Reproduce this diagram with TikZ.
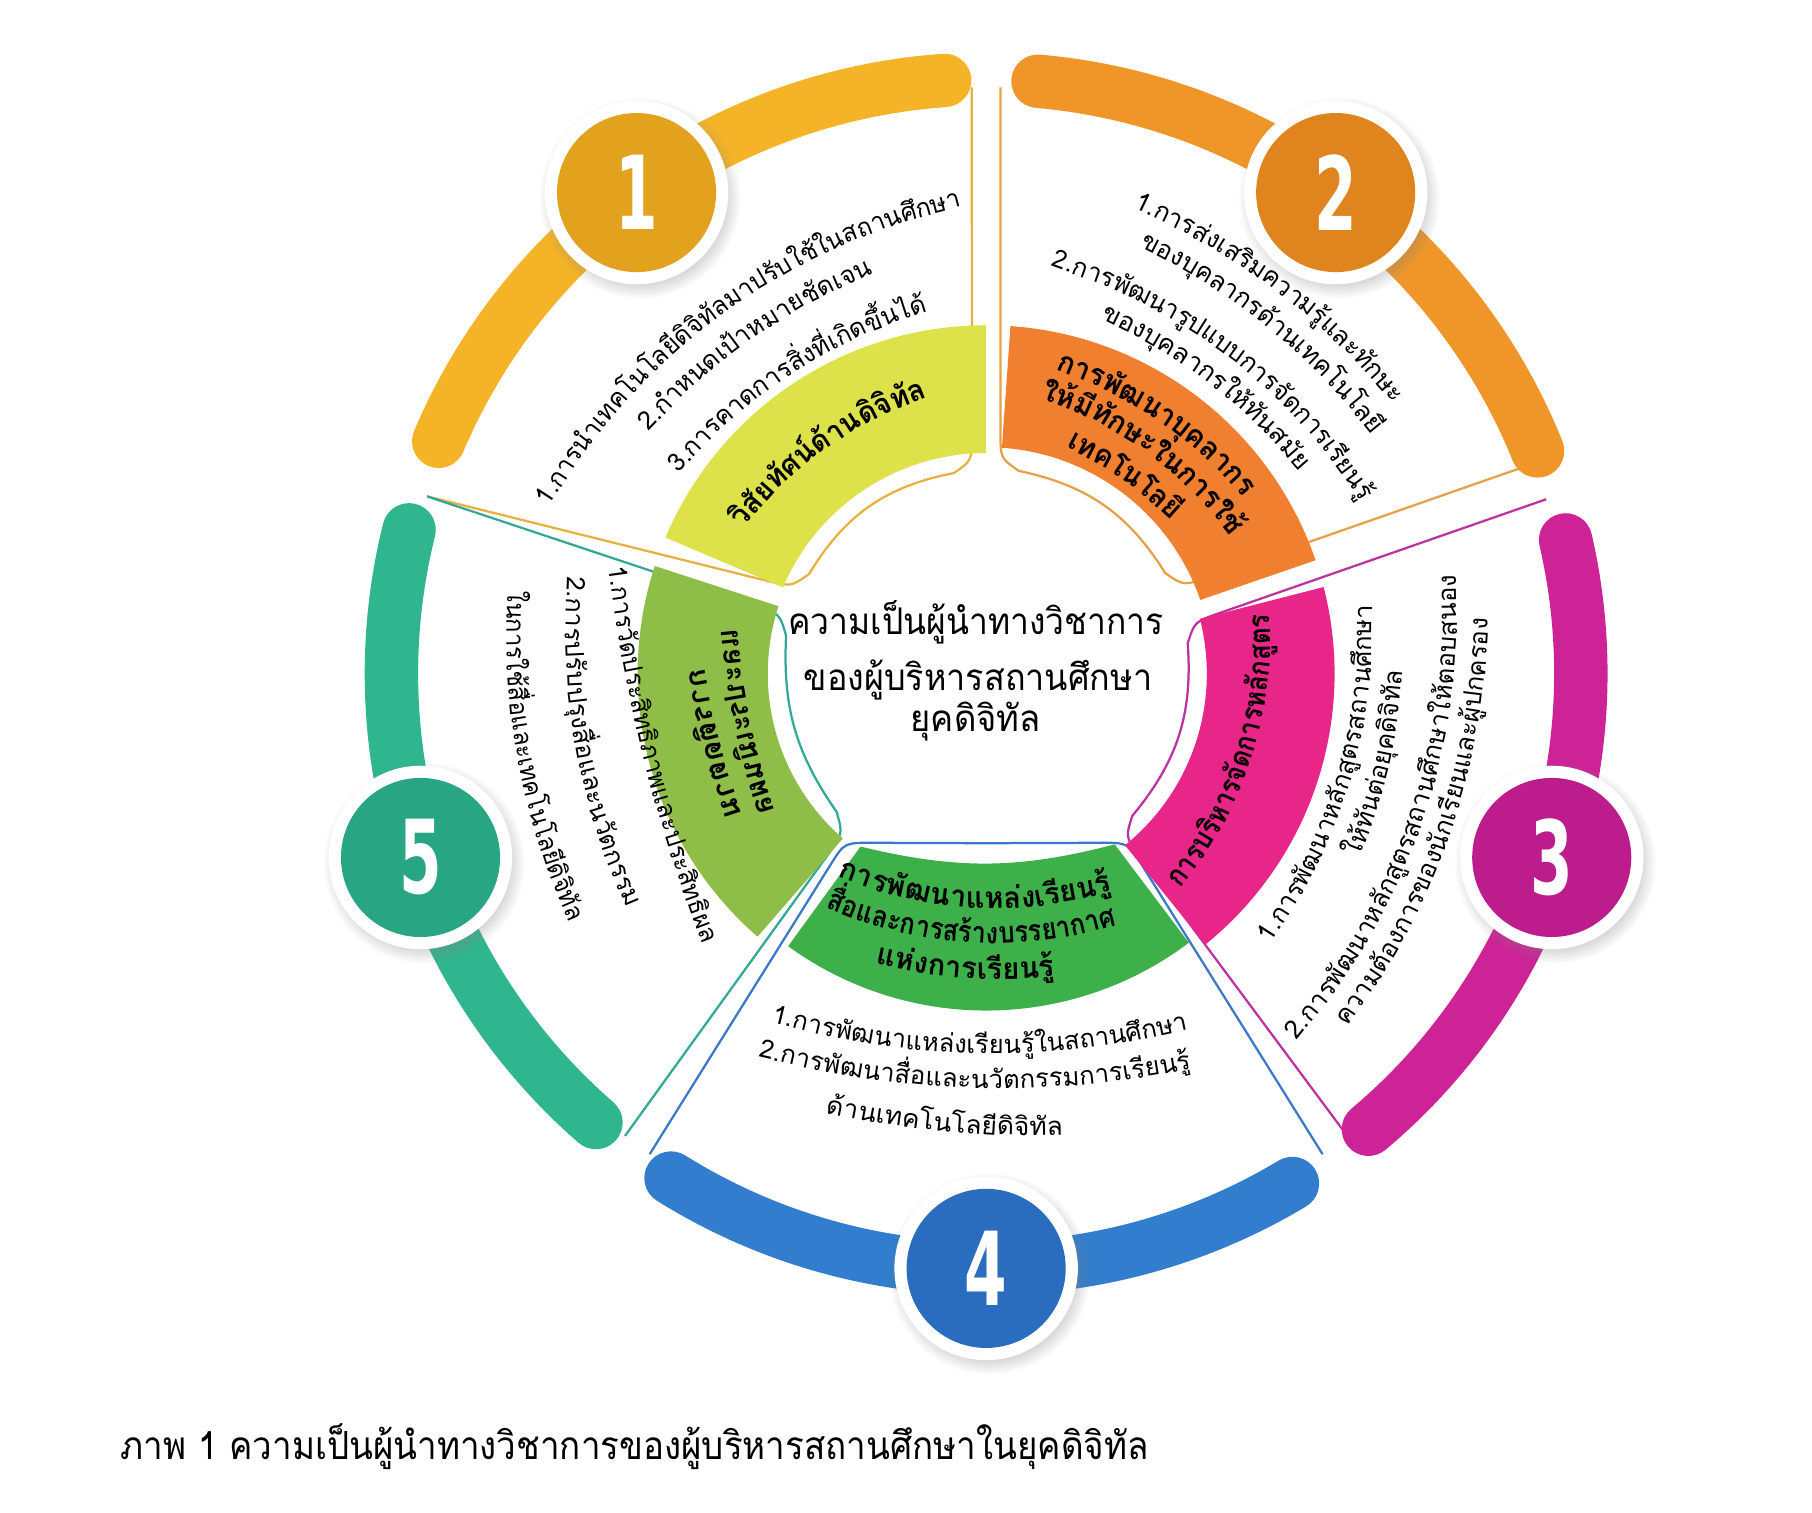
\documentclass[tikz,border=0pt]{standalone}
\usepackage{fontspec}
\usepackage{graphicx}
\usetikzlibrary{calc,shadows}

\newfontfamily\thaifont[Script=Thai]{Loma}
\newfontfamily\numfont{DejaVu Sans}

\definecolor{arcA}{RGB}{245,180,40}
\definecolor{arcB}{RGB}{240,150,40}
\definecolor{arcC}{RGB}{205,35,150}
\definecolor{arcD}{RGB}{50,125,205}
\definecolor{arcE}{RGB}{48,182,142}
\definecolor{numA}{RGB}{226,162,30}
\definecolor{numB}{RGB}{224,132,30}
\definecolor{numC}{RGB}{188,28,140}
\definecolor{numD}{RGB}{42,108,190}
\definecolor{numE}{RGB}{40,165,130}
\definecolor{bandA}{RGB}{222,226,74}
\definecolor{bandB}{RGB}{240,128,48}
\definecolor{bandC}{RGB}{232,38,138}
\definecolor{bandD}{RGB}{62,176,74}
\definecolor{bandE}{RGB}{142,190,72}
\definecolor{rimA}{RGB}{232,176,64}
\definecolor{rimB}{RGB}{230,160,70}
\definecolor{rimC}{RGB}{190,50,160}
\definecolor{rimD}{RGB}{58,120,200}
\definecolor{rimE}{RGB}{50,168,150}

\newcommand\itemfont{\thaifont\fontsize{12.5}{15}\selectfont}
\newcommand\headfont{\thaifont\bfseries\fontsize{14.5}{17}\selectfont}
\newcommand\midfont{\thaifont\fontsize{18}{22}\selectfont}
\newcommand\capfont{\thaifont\fontsize{19}{23}\selectfont}

\newdimen\chunkw
\newdimen\totw
\newdimen\posw
\newsavebox\chunkbox
\newcounter{tx}

% measure a piece of text while the picture is interrupted
\newcommand\measure[2]{\pgfinterruptpicture\sbox\chunkbox{#1#2}\global\chunkw=\wd\chunkbox\endpgfinterruptpicture}

% text set along a bent line: [flip], font, angle, radius, bend radius, side, width, pieces
\newcommand\arcline[8][1]{%
  \begin{scope}[shift={(#3:#4)},rotate={#3+(#6)*90}]
    \global\totw=0pt
    \foreach \chunk in {#8}{\measure{#2}{\chunk}\global\advance\totw by \chunkw}
    \ifdim\totw<1pt \global\totw=1pt\fi
    \pgfmathsetmacro\fxg{#7*0.569055/\totw}
    \global\posw=-0.5\totw
    \foreach \chunk in {#8}{%
      \measure{#2}{\chunk}%
      \pgfmathsetmacro\tal{(\posw+0.5*\chunkw)*\fxg/(#5*0.569055)*57.29578}%
      \pgfmathsetmacro\tpx{#5*0.569055*sin(\tal)}%
      \pgfmathsetmacro\tpy{(#6)*#5*0.569055*(1-cos(\tal))}%
      \pgfmathsetmacro\trot{#3+(#6)*(90+\tal)}%
      \stepcounter{tx}%
      \node[chunk,font=#2,rotate=\trot] (tx\arabic{tx}) at (\tpx pt,\tpy pt) {\scalebox{\fxg}[#1]{\chunk}};
      \global\advance\posw by \chunkw}
  \end{scope}}

\newcommand\fitbox[2]{\sbox\chunkbox{#2}\chunkw=\wd\chunkbox
  \ifdim\chunkw<1pt \chunkw=1pt\fi
  \pgfmathsetmacro\fitf{#1*0.569055/\chunkw}\scalebox{\fitf}[1]{#2}}

% thin outline of one sector: angle, cw outer, cw corner, ccw corner, ccw outer, corner radius, middle radius, colour
\newcommand\rim[8]{%
  \pgfmathsetmacro\rimol{90+(#5)}\pgfmathsetmacro\rimcl{90+(#4)}%
  \pgfmathsetmacro\rimor{90+(#2)}\pgfmathsetmacro\rimcr{90+(#3)}%
  \pgfmathsetmacro\rimhalf{0.5*#6*(cos(\rimcr)-cos(\rimcl))}%
  \pgfmathsetmacro\rimy{0.5*#6*(sin(\rimcr)+sin(\rimcl))}%
  \pgfmathsetmacro\rimb{1.6*atan((#7-\rimy)/\rimhalf)}%
  \begin{scope}[rotate=#1-90]
    \coordinate (oL) at (\rimol:505);
    \coordinate (cL) at (\rimcl:#6);
    \coordinate (oR) at (\rimor:505);
    \coordinate (cR) at (\rimcr:#6);
    \coordinate (aL) at ($(cL)!0.1!(cR)$);
    \coordinate (aR) at ($(cR)!0.1!(cL)$);
    \draw[rim,#8] (oL) -- ($(cL)!0.07!(oL)$) .. controls (cL) .. (aL)
      to[bend left=\rimb] (aR) .. controls (cR) .. ($(cR)!0.07!(oR)$) -- (oR);
  \end{scope}}

\newcommand\band[6]{%
  \pgfmathsetmacro\bandcw{#1+(#2)}\pgfmathsetmacro\bandccw{#1+(#3)}%
  \fill[#6] (\bandcw:#4) arc[start angle=\bandcw,end angle=\bandccw,radius=#4]
    -- (\bandccw:#5) arc[start angle=\bandccw,end angle=\bandcw,radius=#5] -- cycle;}

\newcommand\outerarc[2]{%
  \pgfmathsetmacro\arcs{#1-32}\pgfmathsetmacro\arce{#1+31}%
  \draw[bigarc,#2] (\arcs:512) arc[start angle=\arcs,end angle=\arce,radius=512];}

\begin{document}
\begin{tikzpicture}[x=0.02cm,y=0.02cm]
\tikzstyle{rim} = [line width=1.1pt]
\tikzstyle{bigarc} = [line width=0.92cm,line cap=round]
\tikzstyle{numring} = [circle,fill=white,minimum size=3.16cm,inner sep=0pt,
  circular drop shadow={shadow xshift=0.05cm,shadow yshift=-0.08cm,opacity=0.3}]
\tikzstyle{numdisc} = [circle,minimum size=2.74cm,inner sep=0pt,text=white,
  font=\numfont\bfseries\fontsize{50}{50}\selectfont]
\tikzstyle{chunk} = [anchor=mid,inner sep=0pt,outer sep=0pt]
\tikzstyle{ctext} = [anchor=mid,inner sep=0pt,font=\midfont]

\useasboundingbox (-849,-722) rectangle (711,580);
\fill[white] (-849,-722) rectangle (711,580);

% outlines
\rim{126}{-34.6}{-32.2}{30}{36.4}{184}{183}{rimA}
\rim{54}{-33}{-30}{32.2}{34.6}{186}{184}{rimB}
\rim{-18}{-34}{-31.6}{32}{35.3}{185}{181}{rimC}
\rim{270}{-35}{-40}{40}{35}{190}{146}{rimD}
\rim{198}{-35.6}{-34.2}{30.2}{34}{185}{177}{rimE}

% inner bands
\band{126}{-36}{31}{190}{300}{bandA}
\band{54}{-35}{32}{195}{300}{bandB}
\band{-18}{-33}{32.4}{190}{300}{bandC}
\fill[bandD] (234:184) to[bend right=14] (307:184) -- (307:290)
  arc[start angle=307,end angle=234,radius=290] -- cycle;
\band{198}{-36}{31}{188}{300}{bandE}

% outer arcs
\outerarc{126}{arcA}
\outerarc{54}{arcB}
\outerarc{-18}{arcC}
\outerarc{270}{arcD}
\outerarc{198}{arcE}

% numbers
\node[numring] (ring1) at (126:512) {};
\node[numdisc,fill=numA] (num1) at (ring1) {\scalebox{0.6}[1]{1}};
\node[numring] (ring2) at (54:512) {};
\node[numdisc,fill=numB] (num2) at (ring2) {\scalebox{0.6}[1]{2}};
\node[numring] (ring3) at (-18:512) {};
\node[numdisc,fill=numC] (num3) at (ring3) {\scalebox{0.6}[1]{3}};
\node[numring] (ring4) at (270:512) {};
\node[numdisc,fill=numD] (num4) at (ring4) {\scalebox{0.6}[1]{4}};
\node[numring] (ring5) at (198:512) {};
\node[numdisc,fill=numE] (num5) at (ring5) {\scalebox{0.6}[1]{5}};

% sector 1
\arcline{\headfont}{125.5}{241}{340}{-1}{200}{วิสัย,ทัศน์,ด้าน,ดิจิ,ทัล}
\arcline{\itemfont}{126}{387}{550}{-1}{455}{1.การ,นำ,เทค,โน,โลยี,ดิจิ,ทัล,มา,ปรับ,ใช้,ใน,สถาน,ศึกษา}
\arcline{\itemfont}{125}{355}{500}{-1}{240}{2.กำ,หนด,เป้า,หมาย,ชัด,เจน}
\arcline{\itemfont}{123}{311}{440}{-1}{262}{3.การ,คาด,การ,สิ่ง,ที่,เกิด,ขึ้น,ได้}

% sector 2
\arcline{\headfont}{55.8}{267}{370}{-1}{200}{การ,พัฒ,นา,บุค,ลา,กร}
\arcline{\headfont}{54}{239}{330}{-1}{208}{ให้,มี,ทักษะ,ใน,การ,ใช้}
\arcline{\headfont}{55}{208}{290}{-1}{112}{เทค,โน,โลยี}
\arcline{\itemfont}{53}{417}{580}{-1}{285}{1.การ,ส่ง,เสริม,ความ,รู้,และ,ทักษะ}
\arcline{\itemfont}{51}{388}{540}{-1}{262}{ของ,บุค,ลา,กร,ด้าน,เทค,โน,โลยี}
\arcline{\itemfont}{52.8}{347}{480}{-1}{345}{2.การ,พัฒ,นา,รูป,แบบ,การ,จัด,การ,เรียน,รู้}
\arcline{\itemfont}{52.5}{319}{450}{-1}{220}{ของ,บุค,ลา,กร,ให้,ทัน,สมัย}

% sector 3
\arcline{\headfont}{-18}{236}{330}{1}{252}{การ,บริ,หาร,จัด,การ,หลัก,สูตร}
\arcline{\itemfont}{-16.7}{323}{450}{1}{308}{1.การ,พัฒ,นา,หลัก,สูตร,สถาน,ศึกษา}
\arcline{\itemfont}{-12.9}{352}{490}{1}{165}{ให้,ทัน,ต่อ,ยุค,ดิจิ,ทัล}
\arcline{\itemfont}{-18.9}{393}{550}{1}{432}{2.การ,พัฒ,นา,หลัก,สูตร,สถาน,ศึกษา,ให้,ตอบ,สนอง}
\arcline{\itemfont}{-19}{419}{590}{1}{376}{ความ,ต้อง,การ,ของ,นัก,เรียน,และ,ผู้,ปก,ครอง}

% sector 4
\arcline{\headfont}{267}{198}{340}{1}{240}{การ,พัฒ,นา,แหล่ง,เรียน,รู้}
\arcline{\headfont}{266.5}{228}{355}{1}{255}{สื่อ,และ,การ,สร้าง,บรร,ยา,กาศ}
\arcline{\headfont}{266}{259}{400}{1}{155}{แห่ง,การ,เรียน,รู้}
\arcline{\itemfont}{269}{323}{690}{1}{362}{1.การ,พัฒ,นา,แหล่ง,เรียน,รู้,ใน,สถาน,ศึกษา}
\arcline{\itemfont}{268.4}{353}{800}{1}{375}{2.การ,พัฒ,นา,สื่อ,และ,นวัต,กรรม,การ,เรียน,รู้}
\arcline{\itemfont}{264.7}{392}{800}{1}{205}{ด้าน,เทค,โน,โลยี,ดิจิ,ทัล}

% sector 5 (its heading is printed mirrored)
\arcline[-1]{\headfont}{191.4}{203}{600}{1}{160}{และ,ประ,เมิน,ผล}
\arcline[-1]{\headfont}{194.4}{233}{600}{1}{130}{การ,ติด,ตาม}
\arcline{\itemfont}{194}{300}{1300}{1}{335}{1.การ,วัด,ประ,สิทธิ,ภาพ,และ,ประ,สิทธิ,ผล}
\arcline{\itemfont}{190}{355}{550}{1}{292}{2.การ,ปรับ,ปรุง,สื่อ,และ,นวัต,กรรม}
\arcline{\itemfont}{190.5}{406}{600}{1}{292}{ใน,การ,ใช้,สื่อ,และ,เทค,โน,โลยี,ดิจิ,ทัล}

% centre and caption
\node[ctext] (title1) at (-9,37.5) {\fitbox{323}{ความเป็นผู้นำทางวิชาการ}};
\node[ctext] (title2) at (-7,-11) {\fitbox{300}{ของผู้บริหารสถานศึกษา}};
\node[ctext] (title3) at (-9,-46) {\fitbox{112}{ยุคดิจิทัล}};
\node[ctext,font=\capfont] (caption) at (-302.5,-673) {\fitbox{885}{ภาพ 1 ความเป็นผู้นำทางวิชาการของผู้บริหารสถานศึกษาในยุคดิจิทัล}};
\end{tikzpicture}
\end{document}
